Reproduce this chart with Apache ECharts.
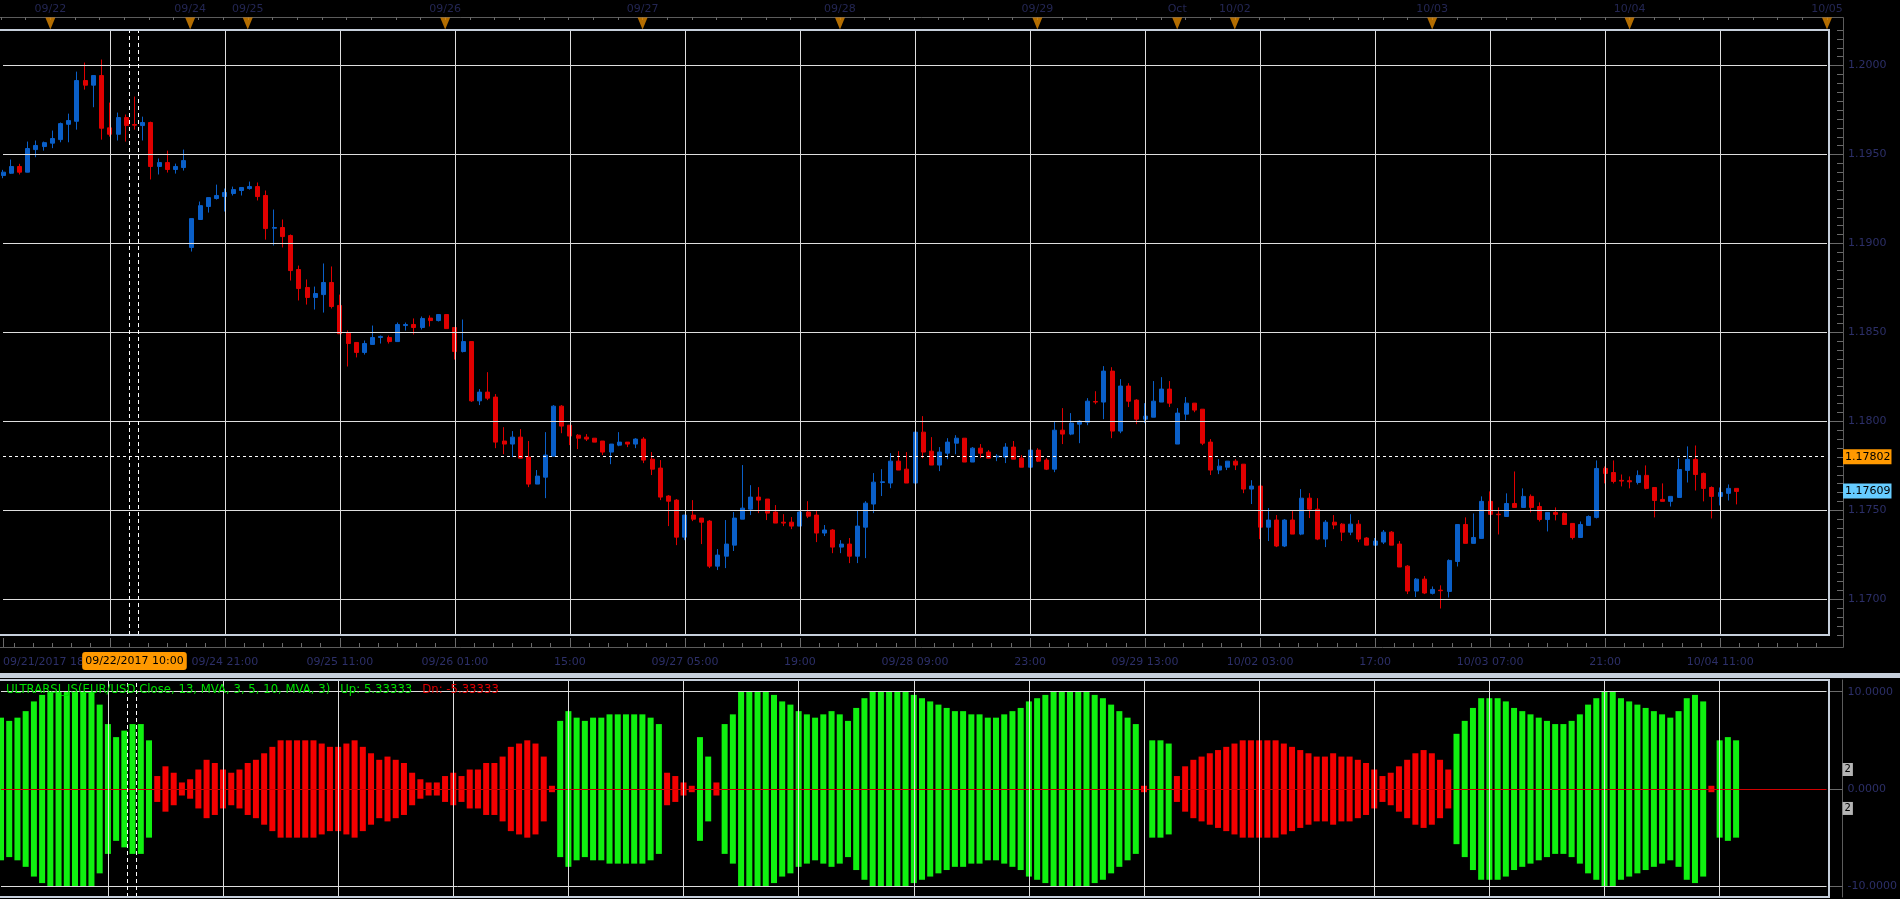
<!DOCTYPE html>
<html><head><meta charset="utf-8">
<script src="https://cdn.jsdelivr.net/npm/echarts@6/dist/echarts.min.js"></script>
<style>html,body{margin:0;padding:0;background:#000;overflow:hidden}#c{width:1900px;height:899px}</style>
</head><body><div id="c"></div>
<script>
// ---------- DATA ----------
// hourly EUR/USD candles from 09/21 18:00: [open, close, low, high]
const candles = [
[1.19382,1.19401,1.19367,1.19414],[1.19395,1.19433,1.19391,1.19472],[1.19433,1.19401,1.19388,1.19448],[1.19401,1.19534,1.19400,1.19573],
[1.19528,1.19551,1.19485,1.19579],[1.19545,1.19567,1.19522,1.19573],[1.19564,1.19590,1.19536,1.19635],[1.19584,1.19674,1.19569,1.19680],
[1.19670,1.19691,1.19569,1.19730],[1.19687,1.19916,1.19640,1.19966],[1.19916,1.19890,1.19865,1.20017],[1.19890,1.19944,1.19766,1.19944],
[1.19944,1.19648,1.19584,1.20034],[1.19650,1.19614,1.19601,1.19792],[1.19614,1.19708,1.19579,1.19736],[1.19708,1.19663,1.19573,1.19725],
[1.19669,1.19665,1.19640,1.19826],[1.19663,1.19680,1.19579,1.19713],[1.19680,1.19433,1.19360,1.19685],[1.19433,1.19455,1.19388,1.19478],
[1.19455,1.19416,1.19399,1.19522],[1.19416,1.19433,1.19393,1.19449],[1.19427,1.19466,1.19410,1.19528],[1.18978,1.19140,1.18955,1.19140],
[1.19135,1.19213,1.19135,1.19236],[1.19208,1.19258,1.19174,1.19258],[1.19253,1.19270,1.19247,1.19331],[1.19264,1.19287,1.19180,1.19309],
[1.19281,1.19303,1.19270,1.19320],[1.19298,1.19315,1.19270,1.19315],[1.19309,1.19320,1.19303,1.19348],[1.19320,1.19264,1.19242,1.19343],
[1.19270,1.19084,1.19022,1.19298],[1.19086,1.19090,1.18989,1.19191],[1.19090,1.19039,1.18978,1.19135],[1.19045,1.18848,1.18792,1.19051],
[1.18854,1.18747,1.18680,1.18876],[1.18753,1.18697,1.18657,1.18798],[1.18697,1.18719,1.18629,1.18758],[1.18713,1.18781,1.18612,1.18888],
[1.18781,1.18646,1.18635,1.18871],[1.18652,1.18493,1.18493,1.18713],[1.18500,1.18438,1.18309,1.18511],[1.18444,1.18388,1.18360,1.18444],
[1.18388,1.18438,1.18376,1.18455],[1.18433,1.18472,1.18433,1.18539],[1.18472,1.18478,1.18438,1.18483],[1.18472,1.18449,1.18438,1.18483],
[1.18449,1.18545,1.18449,1.18556],[1.18539,1.18545,1.18511,1.18556],[1.18545,1.18528,1.18489,1.18579],[1.18528,1.18579,1.18517,1.18590],
[1.18581,1.18567,1.18534,1.18596],[1.18567,1.18601,1.18562,1.18601],[1.18601,1.18522,1.18522,1.18601],[1.18528,1.18393,1.18348,1.18528],
[1.18393,1.18449,1.18388,1.18573],[1.18449,1.18116,1.18110,1.18449],[1.18116,1.18165,1.18092,1.18182],[1.18165,1.18131,1.18120,1.18277],
[1.18137,1.17884,1.17850,1.18154],[1.17890,1.17873,1.17816,1.17968],[1.17873,1.17912,1.17800,1.17946],[1.17912,1.17794,1.17794,1.17957],
[1.17800,1.17648,1.17631,1.17890],[1.17648,1.17693,1.17648,1.17727],[1.17687,1.17811,1.17569,1.17940],[1.17805,1.18086,1.17805,1.18092],
[1.18086,1.17974,1.17934,1.18092],[1.17979,1.17918,1.17867,1.17979],[1.17923,1.17906,1.17845,1.17929],[1.17912,1.17901,1.17890,1.17929],
[1.17906,1.17884,1.17884,1.17906],[1.17890,1.17828,1.17811,1.17890],[1.17828,1.17873,1.17760,1.17873],[1.17867,1.17884,1.17861,1.17940],
[1.17884,1.17873,1.17856,1.17884],[1.17873,1.17901,1.17850,1.17906],[1.17901,1.17783,1.17766,1.17912],[1.17788,1.17732,1.17699,1.17828],
[1.17738,1.17575,1.17558,1.17783],[1.17581,1.17552,1.17412,1.17586],[1.17558,1.17350,1.17305,1.17564],[1.17350,1.17474,1.17333,1.17474],
[1.17474,1.17451,1.17440,1.17558],[1.17457,1.17434,1.17311,1.17457],[1.17440,1.17187,1.17176,1.17446],[1.17187,1.17249,1.17165,1.17283],
[1.17243,1.17311,1.17176,1.17446],[1.17305,1.17457,1.17272,1.17491],[1.17451,1.17513,1.17451,1.17755],[1.17507,1.17575,1.17474,1.17642],
[1.17575,1.17558,1.17485,1.17631],[1.17564,1.17485,1.17446,1.17564],[1.17491,1.17429,1.17429,1.17530],[1.17434,1.17429,1.17412,1.17479],
[1.17434,1.17412,1.17395,1.17463],[1.17412,1.17491,1.17412,1.17496],[1.17491,1.17468,1.17457,1.17552],[1.17474,1.17373,1.17322,1.17496],
[1.17373,1.17390,1.17356,1.17418],[1.17390,1.17294,1.17260,1.17395],[1.17294,1.17311,1.17260,1.17333],[1.17311,1.17243,1.17204,1.17345],
[1.17243,1.17412,1.17204,1.17502],[1.17406,1.17541,1.17232,1.17552],[1.17536,1.17659,1.17485,1.17710],[1.17657,1.17661,1.17581,1.17732],
[1.17654,1.17777,1.17625,1.17822],[1.17777,1.17727,1.17727,1.17833],[1.17732,1.17654,1.17654,1.17828],[1.17654,1.17940,1.17654,1.17940],
[1.17940,1.17828,1.17794,1.18030],[1.17833,1.17755,1.17755,1.17912],[1.17755,1.17828,1.17721,1.17856],[1.17822,1.17884,1.17788,1.17906],
[1.17878,1.17906,1.17816,1.17923],[1.17906,1.17772,1.17772,1.17906],[1.17772,1.17850,1.17772,1.17856],[1.17850,1.17822,1.17794,1.17873],
[1.17828,1.17794,1.17794,1.17839],[1.17801,1.17805,1.17777,1.17816],[1.17800,1.17856,1.17766,1.17878],[1.17856,1.17788,1.17788,1.17890],
[1.17794,1.17743,1.17743,1.17811],[1.17743,1.17839,1.17743,1.17839],[1.17839,1.17777,1.17772,1.17850],[1.17783,1.17732,1.17727,1.17794],
[1.17732,1.17951,1.17715,1.18002],[1.17951,1.17929,1.17873,1.18075],[1.17929,1.17991,1.17923,1.18047],[1.17985,1.18002,1.17878,1.18007],
[1.17996,1.18114,1.17979,1.18131],[1.18112,1.18109,1.18097,1.18170],[1.18109,1.18283,1.18013,1.18311],[1.18283,1.17946,1.17906,1.18305],
[1.17946,1.18199,1.17934,1.18238],[1.18199,1.18114,1.18081,1.18215],[1.18120,1.18013,1.17985,1.18125],[1.18013,1.18030,1.17991,1.18103],
[1.18024,1.18114,1.18024,1.18227],[1.18109,1.18182,1.18109,1.18249],[1.18182,1.18103,1.18081,1.18227],[1.17873,1.18047,1.17873,1.18075],
[1.18041,1.18103,1.18007,1.18137],[1.18103,1.18064,1.18052,1.18103],[1.18069,1.17878,1.17867,1.18069],[1.17884,1.17727,1.17699,1.17901],
[1.17727,1.17749,1.17704,1.17788],[1.17743,1.17777,1.17727,1.17777],[1.17777,1.17755,1.17727,1.17788],[1.17760,1.17620,1.17597,1.17760],
[1.17620,1.17637,1.17536,1.17670],[1.17637,1.17406,1.17339,1.17637],[1.17406,1.17446,1.17328,1.17513],[1.17446,1.17300,1.17294,1.17474],
[1.17300,1.17446,1.17294,1.17451],[1.17446,1.17367,1.17367,1.17496],[1.17367,1.17569,1.17361,1.17620],[1.17569,1.17507,1.17457,1.17597],
[1.17507,1.17339,1.17333,1.17569],[1.17339,1.17434,1.17294,1.17446],[1.17434,1.17418,1.17395,1.17474],[1.17423,1.17378,1.17328,1.17429],
[1.17378,1.17423,1.17361,1.17479],[1.17423,1.17339,1.17322,1.17446],[1.17345,1.17305,1.17305,1.17350],[1.17305,1.17328,1.17305,1.17345],
[1.17322,1.17378,1.17311,1.17390],[1.17378,1.17305,1.17305,1.17384],[1.17311,1.17182,1.17182,1.17328],[1.17187,1.17047,1.17030,1.17193],
[1.17047,1.17114,1.17013,1.17120],[1.17114,1.17036,1.17030,1.17131],[1.17034,1.17056,1.17028,1.17073],[1.17052,1.17049,1.16949,1.17079],
[1.17045,1.17219,1.17011,1.17225],[1.17213,1.17421,1.17185,1.17421],[1.17421,1.17315,1.17315,1.17461],[1.17315,1.17348,1.17315,1.17483],
[1.17343,1.17551,1.17343,1.17579],[1.17551,1.17478,1.17478,1.17607],[1.17479,1.17476,1.17365,1.17517],[1.17466,1.17539,1.17466,1.17596],
[1.17539,1.17517,1.17517,1.17719],[1.17517,1.17579,1.17517,1.17624],[1.17579,1.17517,1.17489,1.17590],[1.17522,1.17449,1.17438,1.17545],
[1.17449,1.17489,1.17382,1.17489],[1.17489,1.17478,1.17444,1.17517],[1.17483,1.17421,1.17421,1.17489],[1.17427,1.17348,1.17337,1.17427],
[1.17348,1.17421,1.17348,1.17438],[1.17416,1.17466,1.17416,1.17472],[1.17461,1.17736,1.17455,1.17781],[1.17736,1.17708,1.17652,1.17747],
[1.17713,1.17663,1.17652,1.17781],[1.17669,1.17665,1.17635,1.17702],[1.17667,1.17661,1.17624,1.17691],[1.17657,1.17697,1.17646,1.17725],
[1.17697,1.17624,1.17618,1.17753],[1.17629,1.17556,1.17461,1.17629],[1.17562,1.17551,1.17551,1.17652],[1.17551,1.17579,1.17522,1.17579],
[1.17573,1.17730,1.17573,1.17792],[1.17725,1.17787,1.17657,1.17860],[1.17787,1.17702,1.17612,1.17865],[1.17708,1.17624,1.17551,1.17713],
[1.17629,1.17579,1.17455,1.17635],[1.17579,1.17601,1.17528,1.17629],[1.17596,1.17624,1.17556,1.17646],[1.17624,1.17607,1.17534,1.17624]
];

// ULTRARSI histogram, same bars: sign = green(+)/red(-), drawn symmetric around zero
const ursi = [
7.33,7,7.33,8,9,9.67,10,10,10,10,10,10,8.67,6.67,5.33,6,6.67,6.67,5,
-1.33,-2.33,-1.67,-0.67,-1,-2,-3,-2.67,-2,-1.67,-2,-2.67,-3,-3.67,-4.33,-5,-5,-5,-5,-5,
-4.67,-4.33,-4.33,-4.67,-5,-4.33,-3.67,-3,-3.33,-3,-2.67,-1.67,-1,-0.67,-0.67,-1.33,-1.67,-1.33,-2,-2,
-2.67,-2.67,-3.33,-4.33,-4.67,-5,-4.67,-3.33,-0.33,
7,8,7.33,7,7.33,7.33,7.67,7.67,7.67,7.67,7.67,7.33,6.67,
-1.67,-1.33,-0.67,-0.33,5.33,3.33,-0.67,
6.67,7.67,10,10,10,10,9.67,9,8.67,8,7.67,7.33,7.67,8,7.67,7,
8.33,9.33,10,10,10,10,10,9.67,9.33,9,8.67,8.33,8,8,7.67,7.67,7.33,7.33,7.67,8,8.33,9,9.33,9.67,10,10,10,10,10,9.67,9.33,8.67,8,7.33,6.67,
-0.33,5,5,4.67,
-1.33,-2.33,-3,-3.33,-3.67,-4,-4.33,-4.67,-5,-5,-5,-5,-5,-4.67,-4.33,-4,-3.67,-3.33,-3.33,-3.67,-3.33,-3.33,-3,-2.67,-2,-1.33,-1.67,-2.33,-3,-3.67,-4,-3.67,-3,-2,
5.67,7,8.33,9.33,9.33,9.33,9,8.33,8,7.67,7.33,7,6.67,6.67,7,7.67,8.67,9.33,10,10,9.33,9,8.67,8.33,8,7.67,7.33,8,9.33,9.67,9,
-0.33,5,5.33,5
];

// axis annotations (category positions)
const tickIdx    = [0, 13, 27, 41, 55, 69, 83, 97, 111, 125, 139, 153, 167, 181, 195, 209];
const tickLabels = ['09/21/2017 18:00', '', '09/24 21:00', '09/25 11:00', '09/26 01:00', '15:00', '09/27 05:00', '19:00',
                    '09/28 09:00', '23:00', '09/29 13:00', '10/02 03:00', '17:00', '10/03 07:00', '21:00', '10/04 11:00'];
const dayIdx    = [6, 23, 30, 54, 78, 102, 126, 143, 150, 174, 198, 222];
const dayLabels = ['09/22', '09/24', '09/25', '09/26', '09/27', '09/28', '09/29', 'Oct', '10/02', '10/03', '10/04', '10/05'];
const priceTicks = [1.1700, 1.1750, 1.1800, 1.1850, 1.1900, 1.1950, 1.2000];
const indTicks = [-10, 0, 10];
const indTags = [2, -2];
const crossPrice = 1.17802, lastPrice = 1.17609;
const crossIdx = 16, crossBar = [15.4, 16.5];
const crossLabel = '09/22/2017 10:00';
const indTitle = 'ULTRARSI_JS(EUR/USD.Close, 13, MVA, 3, 5, 10, MVA, 3)';
const upText = 'Up: 5.33333', dnText = 'Dn: -5.33333';

// hourly categories (market closed Fri 17:00 -> Sun 17:00)
const categories = [];
(function () {
  let t = Date.UTC(2017, 8, 21, 18);
  const p = n => String(n).padStart(2, '0');
  while (categories.length < 223) {
    const d = new Date(t), dow = d.getUTCDay(), h = d.getUTCHours();
    const closed = (dow === 5 && h >= 17) || dow === 6 || (dow === 0 && h < 17);
    if (!closed) categories.push(p(d.getUTCMonth() + 1) + '/' + p(d.getUTCDate()) + ' ' + p(h) + ':00');
    t += 3600000;
  }
})();
const N = categories.length - 1;
const minorTicks = [];
for (let v = -1; v <= N + 0.01; v += 14 / 6) if (v >= 0) minorTicks.push(+v.toFixed(4));
const vGrid = tickIdx.filter(i => i > 0);

// ---------- STYLE ----------
const FONT = 'DejaVu Sans';
const LBL = '#2c2f68';
const GRIDC = '#dedede';
const BORDER = '#c6cfdb';
const UP = '#0a5fc8', DOWN = '#e00000';
const GREEN = '#10f010', RED = '#f40000';
const TICKC = '#6a6a6a';
const NOLINE = { show: false, onZero: false };
const ML = { silent: true, precision: 6, symbol: ['none', 'none'], emphasis: { disabled: true } };

const chart = echarts.init(document.getElementById('c'), null, {renderer: 'canvas'});
const gl = 1, gr = 73;
const onGrid = i => tickIdx.indexOf(i) >= 0;

const option = {
  backgroundColor: '#000',
  animation: false,
  title: {
    left: 6, top: 681, padding: 0,
    text: '{g|' + indTitle + '}  {g|' + upText + '}  {r|' + dnText + '}',
    textStyle: { fontWeight: 'normal', rich: {
      g: { color: '#00e000', fontFamily: FONT, fontSize: 11.7, fontWeight: 'normal', lineHeight: 14 },
      r: { color: '#e00000', fontFamily: FONT, fontSize: 11.7, fontWeight: 'normal', lineHeight: 14 }
    } }
  },
  graphic: [
    { type: 'rect', z: -10, silent: true, shape: { x: -2, y: 17.5, width: 1845.5, height: 630 },
      style: { fill: 'none', stroke: '#5c5c5c', lineWidth: 1 } },
    { type: 'rect', z: 10, silent: true, shape: { x: -5, y: 30, width: 1834, height: 605 },
      style: { fill: 'none', stroke: BORDER, lineWidth: 2 } },
    { type: 'rect', z: 10, silent: true, shape: { x: -5, y: 680, width: 1834, height: 217 },
      style: { fill: 'none', stroke: BORDER, lineWidth: 2 } },
    { type: 'rect', z: 10, silent: true, shape: { x: 0, y: 673, width: 1900, height: 5 },
      style: { fill: BORDER } }
  ],
  grid: [
    { left: gl, right: gr, top: 30, height: 605, show: false },
    { left: gl, right: gr, top: 680, height: 217, show: false },
    { left: gl, right: gr, top: 17, height: 13, show: false }
  ],
  xAxis: [
    { type: 'category', gridIndex: 0, data: categories, boundaryGap: false,
      axisLine: NOLINE, axisTick: { show: false }, splitLine: { show: false },
      axisLabel: { interval: onGrid, margin: 22, color: LBL, fontFamily: FONT, fontSize: 11, alignMinLabel: 'left',
        formatter: (v, i) => { const k = tickIdx.indexOf(i); return k >= 0 ? tickLabels[k] : ''; } },
      axisPointer: { show: true, type: 'none', value: crossIdx, status: 'show', triggerTooltip: false,
        label: { show: true, formatter: crossLabel, backgroundColor: '#ff9900', color: '#000', fontFamily: FONT,
          fontSize: 11, padding: [4, 3, 3, 3], margin: 17, borderWidth: 0, shadowBlur: 0 } } },
    { type: 'value', gridIndex: 0, min: 0, max: N, position: 'bottom', offset: 12,
      axisLine: NOLINE, axisLabel: { show: false }, splitLine: { show: false },
      axisTick: { show: true, inside: true, length: 9, customValues: tickIdx, lineStyle: { color: TICKC } } },
    { type: 'category', gridIndex: 1, data: categories, boundaryGap: false,
      axisLine: NOLINE, axisTick: { show: false }, axisLabel: { show: false }, splitLine: { show: false } },
    { type: 'value', gridIndex: 1, min: 0, max: N, show: false, axisLine: NOLINE, splitLine: { show: false } },
    { type: 'category', gridIndex: 2, data: categories, boundaryGap: false, position: 'top',
      axisLine: NOLINE, axisLabel: { show: false }, splitLine: { show: false },
      axisTick: { show: true, inside: true, length: 3, interval: i => i % 3 === 0, lineStyle: { color: TICKC } } },
    { type: 'value', gridIndex: 0, min: 0, max: N, position: 'bottom', offset: 12,
      axisLine: NOLINE, axisLabel: { show: false }, splitLine: { show: false },
      axisTick: { show: true, inside: true, length: 4, customValues: minorTicks, lineStyle: { color: TICKC } } }
  ],
  yAxis: [
    { type: 'value', gridIndex: 0, position: 'right', offset: 16, min: 1.168, max: 1.202, scale: true,
      axisLine: { show: true, onZero: false, lineStyle: { color: '#5c5c5c' } },
      axisTick: { show: true, inside: true, length: 14, customValues: priceTicks, lineStyle: { color: TICKC } },
      axisLabel: { customValues: priceTicks, formatter: v => v.toFixed(4), color: LBL, fontFamily: FONT, fontSize: 11, margin: 5 },
      splitLine: { show: false } },
    { type: 'value', gridIndex: 0, position: 'right', offset: 16, min: 1.168, max: 1.202, interval: 0.0005, scale: true,
      axisLine: NOLINE, axisLabel: { show: false }, splitLine: { show: false },
      axisTick: { show: true, inside: true, length: 6, lineStyle: { color: TICKC } } },
    { type: 'value', gridIndex: 1, position: 'right', offset: 16, min: -11.1, max: 11.2,
      axisLine: { show: true, onZero: false, lineStyle: { color: '#5c5c5c' } },
      axisTick: { show: true, inside: true, length: 14, customValues: indTicks, lineStyle: { color: TICKC } },
      axisLabel: { customValues: indTicks, formatter: v => v.toFixed(4), color: LBL, fontFamily: FONT, fontSize: 11, margin: 5 },
      splitLine: { show: false } },
    { type: 'value', gridIndex: 2, min: 0, max: 1, show: false, axisLine: NOLINE, splitLine: { show: false } }
  ],
  series: [
    // price grid lines
    { type: 'line', xAxisIndex: 1, yAxisIndex: 0, data: [], z: 1, silent: true,
      markLine: Object.assign({}, ML, { label: { show: false }, lineStyle: { color: GRIDC, width: 1, type: 'solid' },
        data: priceTicks.map(v => ({ yAxis: v })).concat(vGrid.map(v => ({ xAxis: v }))) }) },
    { type: 'candlestick', xAxisIndex: 0, yAxisIndex: 0, z: 3, barWidth: 4.5,
      data: candles,
      itemStyle: { color: UP, color0: DOWN, borderColor: UP, borderColor0: DOWN, borderWidth: 1 },
      markLine: Object.assign({}, ML, {
        data: [
          { yAxis: crossPrice, lineStyle: { color: '#ffffff', type: [3, 3], width: 1 },
            label: { show: true, position: 'end', distance: 16, formatter: crossPrice.toFixed(5), backgroundColor: '#ff9900',
              color: '#000', fontFamily: FONT, fontSize: 11, padding: [1, 1, 1, 2], lineHeight: 13 } },
          { yAxis: lastPrice, lineStyle: { color: 'rgba(0,0,0,0)', width: 1 },
            label: { show: true, position: 'end', distance: 16, formatter: lastPrice.toFixed(5), backgroundColor: '#66ccff',
              color: '#000', fontFamily: FONT, fontSize: 11, padding: [1, 1, 1, 2], lineHeight: 13 } }
        ] }) },
    { type: 'line', xAxisIndex: 1, yAxisIndex: 0, data: [], z: 4, silent: true,
      markLine: Object.assign({}, ML, { label: { show: false }, lineStyle: { color: '#ffffff', width: 1, type: [4, 3] },
        data: crossBar.map(v => ({ xAxis: v })) }) },
    // indicator grid lines and level tags
    { type: 'line', xAxisIndex: 3, yAxisIndex: 2, data: [], z: 1, silent: true,
      markLine: Object.assign({}, ML, {
        data: [
          { yAxis: 10, lineStyle: { color: GRIDC, width: 1, type: 'solid' }, label: { show: false } },
          { yAxis: -10, lineStyle: { color: GRIDC, width: 1, type: 'solid' }, label: { show: false } },
          { yAxis: 0, lineStyle: { color: '#d00000', width: 1, type: 'solid' }, label: { show: false } }
        ].concat(vGrid.map(v => ({ xAxis: v, lineStyle: { color: GRIDC, width: 1, type: 'solid' }, label: { show: false } })))
         .concat(indTags.map(v => ({ yAxis: v, lineStyle: { color: 'rgba(0,0,0,0)', width: 1 },
          label: { show: true, position: 'end', distance: 16, formatter: String(Math.abs(v)), backgroundColor: '#b4b4b4',
            color: '#000', fontFamily: FONT, fontSize: 10, padding: [1, 2, 0, 2], lineHeight: 12 } }))) }) },
    { type: 'bar', xAxisIndex: 2, yAxisIndex: 2, z: 2, barWidth: 6, barGap: '-100%', silent: true,
      data: ursi.map(v => Math.abs(v)),
      itemStyle: { color: p => (ursi[p.dataIndex] >= 0 ? GREEN : RED) } },
    { type: 'bar', xAxisIndex: 2, yAxisIndex: 2, z: 2, barWidth: 6, barGap: '-100%', silent: true,
      data: ursi.map(v => -Math.abs(v)),
      itemStyle: { color: p => (ursi[p.dataIndex] >= 0 ? GREEN : RED) } },
    { type: 'line', xAxisIndex: 3, yAxisIndex: 2, data: [], z: 4, silent: true,
      markLine: Object.assign({}, ML, { label: { show: false }, lineStyle: { color: '#ffffff', width: 1, type: [4, 3] },
        data: crossBar.map(v => ({ xAxis: v })) }) },
    { type: 'scatter', xAxisIndex: 4, yAxisIndex: 3, silent: true, clip: false,
      symbol: 'triangle', symbolRotate: 180, symbolSize: [10, 12],
      itemStyle: { color: '#e08800' },
      label: { show: true, position: 'top', distance: 3, color: LBL, fontFamily: FONT, fontSize: 11,
        formatter: p => dayLabels[p.dataIndex] },
      data: dayIdx.map(i => [i, 0.5]) }
  ]
};
chart.setOption(option);
</script>
</body></html>
